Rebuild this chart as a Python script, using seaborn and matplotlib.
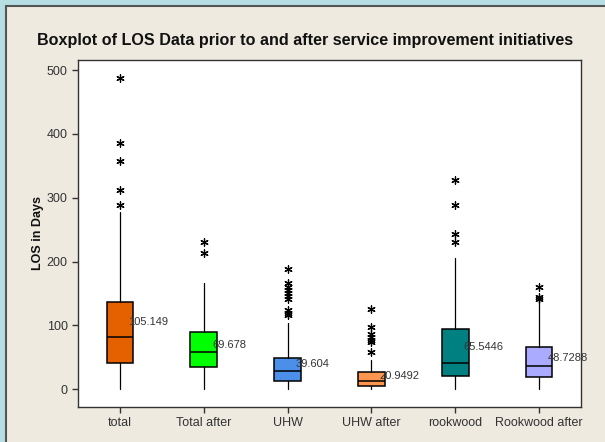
import numpy as np
import pandas as pd
import seaborn as sns
import matplotlib as mpl
from matplotlib import pyplot as plt

mpl.use('Agg')

groups = ['total', 'Total after', 'UHW', 'UHW after', 'rookwood', 'Rookwood after']
colors = ['#E56100', '#00FF00', '#4C8FE8', '#FF9650', '#008080', '#AAAAFF']

# Box statistics
q1 = [41, 34, 12, 5, 21, 19]
medians = [81, 59, 29, 12.5, 41, 36]
q3 = [137, 90, 48.5, 27, 95, 66]
whis_lo = [1, 1, 0, 0, 1, 1]
whis_hi = [278, 166, 103, 46, 206, 139]
means = [105.149, 69.678, 39.604, 20.9492, 65.5446, 48.7288]

# Outliers (asterisks)
out_total = [487, 386, 357, 312, 288]
out_total_after = [231, 214]
out_uhw = [188, 166, 160, 156, 151, 146, 141, 124, 119, 116]
out_uhw_after = [126, 98, 87, 81, 77, 74, 58]
out_rookwood = [328, 288, 244, 231]
out_rookwood_after = [160, 145, 142]
outliers = [out_total, out_total_after, out_uhw, out_uhw_after,
            out_rookwood, out_rookwood_after]

sns.set_style('white')
plt.rcParams['font.family'] = ['Liberation Sans', 'DejaVu Sans']

fig = plt.figure(figsize=(6.05, 4.42), dpi=100, facecolor='#B7DEE2')
# beige panel with dark border (left/top edges visible)
panel = mpl.patches.Rectangle((6 / 605, -0.01), 1.0, 1 - 6 / 442 + 0.01,
                              transform=fig.transFigure, facecolor='#EEEAE0',
                              edgecolor='#555555', linewidth=1.5, zorder=-5)
fig.patches.append(panel)

ax = fig.add_axes([78 / 605, 1 - 407 / 442, (581 - 78) / 605, (407 - 60) / 442])
ax.set_facecolor('white')

stats = []
for i, g in enumerate(groups):
    stats.append({'label': g, 'q1': q1[i], 'med': medians[i], 'q3': q3[i],
                  'whislo': whis_lo[i], 'whishi': whis_hi[i], 'fliers': []})

bp = ax.bxp(stats, positions=range(len(groups)), widths=0.32, patch_artist=True,
            showcaps=False, showfliers=False,
            boxprops=dict(edgecolor='black', linewidth=1.1),
            medianprops=dict(color='black', linewidth=1.1),
            whiskerprops=dict(color='black', linewidth=0.9))
for patch, c in zip(bp['boxes'], colors):
    patch.set_facecolor(c)

# outliers as asterisks
rows = []
for i, vals in enumerate(outliers):
    for v in vals:
        rows.append({'pos': i, 'LOS': v})
df_out = pd.DataFrame(rows)
sns.scatterplot(data=df_out, x='pos', y='LOS', ax=ax, marker=(6, 2, 0),
                s=28, color='black', linewidth=0.9, legend=False, zorder=3)

# mean labels
for i, m in enumerate(means):
    ax.text(i + 0.1, m, str(m), fontsize=8, color='#333333', va='center',
            ha='left', zorder=4)

ax.set_xlim(-0.5, len(groups) - 0.5)
ax.set_ylim(-28, 516)
ax.set_yticks([0, 100, 200, 300, 400, 500])
ax.set_xticks(range(len(groups)))
ax.set_xticklabels(groups)
ax.tick_params(axis='both', direction='out', length=4, width=1, colors='#333333',
               labelsize=9, labelcolor='#333333', left=True, bottom=True)
for s in ax.spines.values():
    s.set_color('#333333')
    s.set_linewidth(1.0)
ax.set_xlabel('')
ax.set_ylabel('LOS in Days', fontsize=9, fontweight='bold', color='#111111',
              labelpad=2)

fig.text(0.505, 1 - 40 / 442, 'Boxplot of LOS Data prior to and after service improvement initiatives',
         ha='center', va='center', fontsize=11.6, fontweight='bold', color='#111111')

fig.savefig('out.png', dpi=100, facecolor=fig.get_facecolor())
